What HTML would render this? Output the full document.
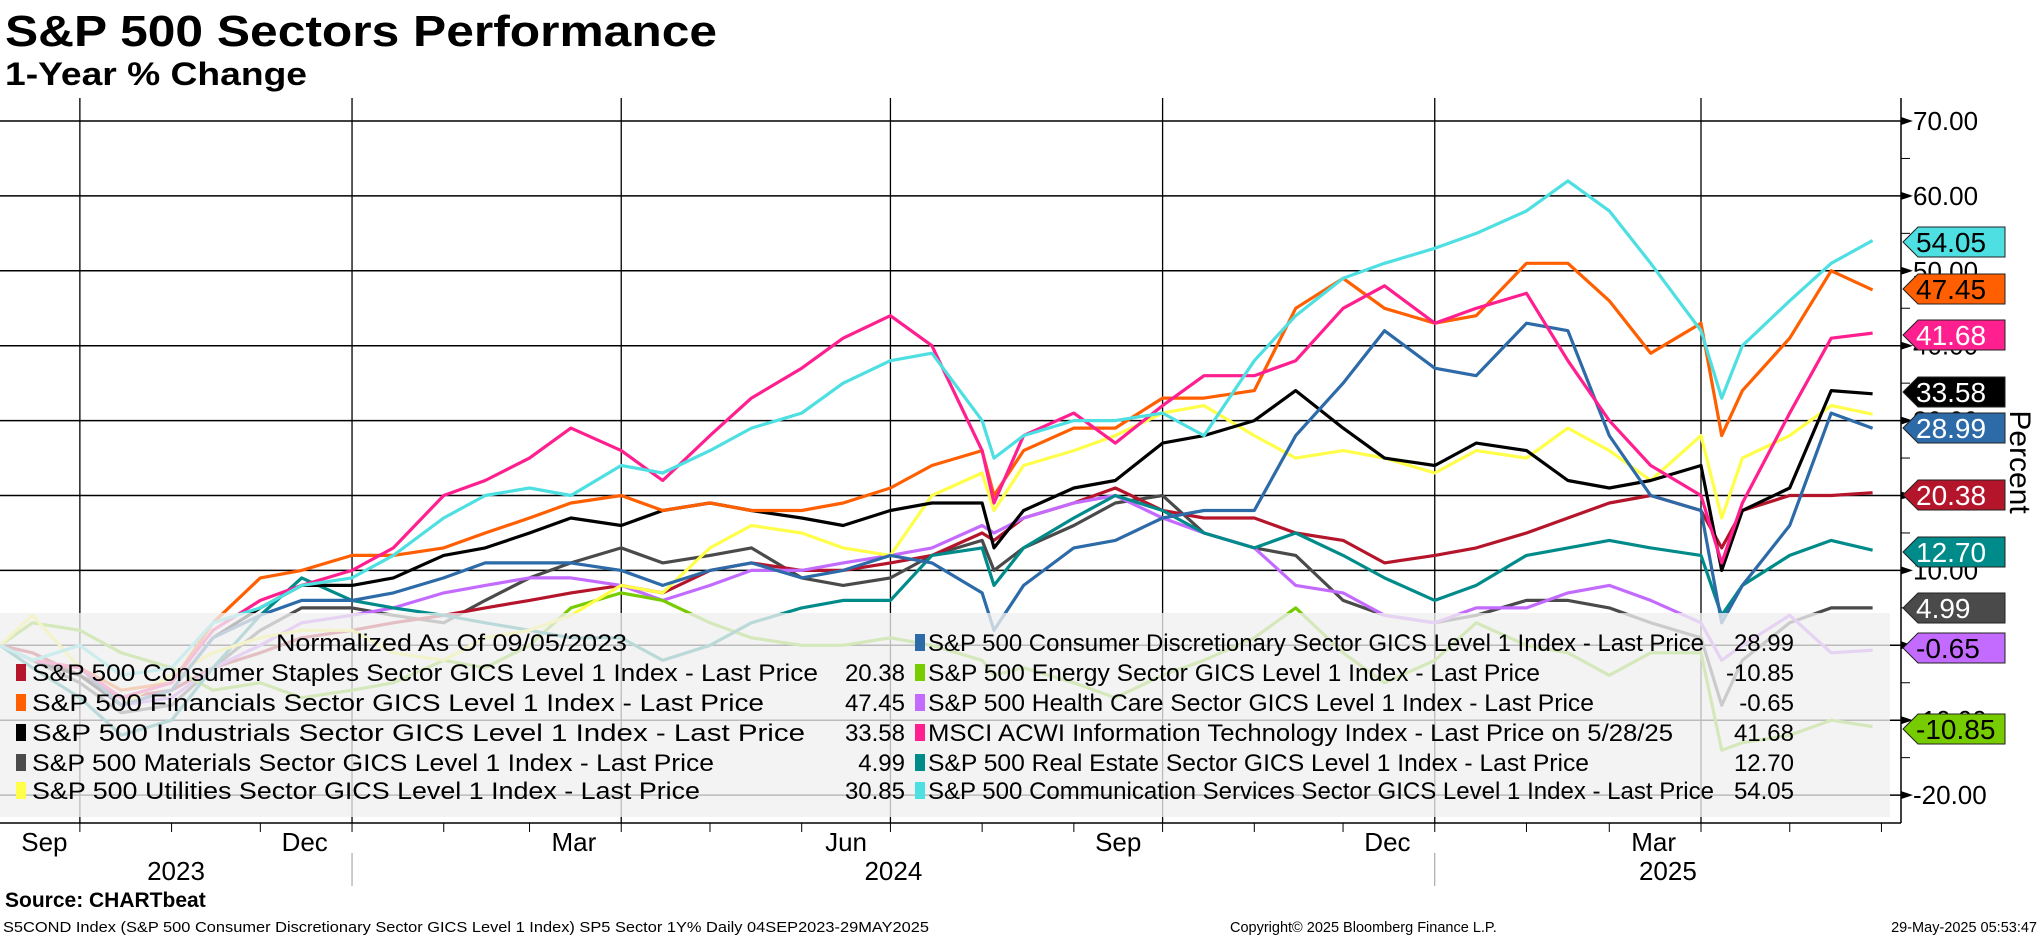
<!DOCTYPE html>
<html>
<head>
<meta charset="utf-8">
<style>
html,body{margin:0;padding:0;background:#fff;}
body{width:2041px;height:936px;overflow:hidden;font-family:"Liberation Sans",sans-serif;}
svg text{font-family:"Liberation Sans",sans-serif;}
</style>
</head>
<body>
<svg id="chart" width="2041" height="936" viewBox="0 0 2041 936" xmlns="http://www.w3.org/2000/svg">
  <text x="5" y="46" font-size="44" font-weight="bold" textLength="712" lengthAdjust="spacingAndGlyphs">S&amp;P 500 Sectors Performance</text>
  <text x="5" y="85" font-size="32" font-weight="bold" textLength="302" lengthAdjust="spacingAndGlyphs">1-Year % Change</text>
  <g id="grid"></g>
  <g id="series"></g>
  <g id="legend"></g>
  <g id="axes"></g>
  <g id="tags"></g>
  <text transform="translate(2010,462) rotate(90)" font-size="30" text-anchor="middle">Percent</text>
  <text x="5" y="907" font-size="21" font-weight="bold">Source: CHARTbeat</text>
  <text x="3" y="932" font-size="14.5" textLength="926" lengthAdjust="spacingAndGlyphs">S5COND Index (S&amp;P 500 Consumer Discretionary Sector GICS Level 1 Index) SP5 Sector 1Y%  Daily 04SEP2023-29MAY2025</text>
  <text x="1230" y="932" font-size="14.5">Copyright© 2025 Bloomberg Finance L.P.</text>
  <text x="2037" y="932" font-size="14.5" text-anchor="end">29-May-2025 05:53:47</text>
</svg>
<script>
const dates = ["2023-09-04","2023-09-15","2023-10-01","2023-10-15","2023-11-01","2023-11-15","2023-12-01","2023-12-15","2024-01-01","2024-01-15","2024-02-01","2024-02-15","2024-03-01","2024-03-15","2024-04-01","2024-04-15","2024-05-01","2024-05-15","2024-06-01","2024-06-15","2024-07-01","2024-07-15","2024-08-01","2024-08-05","2024-08-15","2024-09-01","2024-09-15","2024-10-01","2024-10-15","2024-11-01","2024-11-15","2024-12-01","2024-12-15","2025-01-01","2025-01-15","2025-02-01","2025-02-15","2025-03-01","2025-03-15","2025-04-01","2025-04-08","2025-04-15","2025-05-01","2025-05-15","2025-05-29"];
const staples = [0,-1,-4,-7,-6,-3,-1,1,2,3,4,5,6,7,8,7,10,11,10,10,11,12,15,14,17,19,21,18,17,17,15,14,11,12,13,15,17,19,20,18,13,18,20,20,20.38];
const financials = [0,-2,-3,-6,-5,3,9,10,12,12,13,15,17,19,20,18,19,18,18,19,21,24,26,20,26,29,29,33,33,34,45,49,45,43,44,51,51,46,39,43,28,34,41,50,47.45];
const industrials = [0,-2,-4,-8,-6,1,5,8,8,9,12,13,15,17,16,18,19,18,17,16,18,19,19,13,18,21,22,27,28,30,34,29,25,24,27,26,22,21,22,24,10,18,21,34,33.58];
const materials = [0,-2,-5,-9,-8,-3,2,5,5,4,3,6,9,11,13,11,12,13,9,8,9,12,14,10,13,16,19,20,15,13,12,6,4,3,4,6,6,5,3,1,-8,-2,3,5,4.99];
const utilities = [0,4,-3,-8,-4,-1,1,2,2,-1,-2,1,2,4,8,7,13,16,15,13,12,20,23,18,24,26,28,31,32,28,25,26,25,23,26,25,29,26,22,28,17,25,28,32,30.85];
const discretionary = [0,-2,-3,-8,-6,1,4,6,6,7,9,11,11,11,10,8,10,11,9,10,12,11,7,2,8,13,14,17,18,18,28,35,42,37,36,43,42,28,20,18,3,8,16,31,28.99];
const energy = [0,3,2,-1,-3,-6,-5,-7,-6,-5,-2,-3,0,5,7,6,3,1,0,0,1,0,-2,-4,-3,-5,-7,-4,-2,1,5,-1,-5,-2,3,0,-1,-4,-1,-1,-14,-13,-12,-10,-10.85];
const healthcare = [0,-2,-4,-8,-7,-3,0,3,4,5,7,8,9,9,8,6,8,10,10,11,12,13,16,15,17,19,20,17,15,13,8,7,4,3,5,5,7,8,6,3,-2,0,4,-1,-0.65];
const infotech = [0,-2,-3,-7,-5,2,6,8,10,13,20,22,25,29,26,22,28,33,37,41,44,40,26,19,28,31,27,32,36,36,38,45,48,43,45,47,38,30,24,20,11,19,31,41,41.68];
const realestate = [0,-3,-7,-12,-10,-3,4,9,6,5,4,3,2,1,1,-2,0,3,5,6,6,12,13,8,13,17,20,18,15,13,15,12,9,6,8,12,13,14,13,12,4,8,12,14,12.70];
const commserv = [0,-2,0,-4,-3,3,5,8,9,12,17,20,21,20,24,23,26,29,31,35,38,39,30,25,28,30,30,31,28,38,44,49,51,53,55,58,62,58,51,42,33,40,46,51,54.05];
const yTicks = [70,60,50,40,30,20,10,0,-10,-20];
const yTickLabels = ["70.00","60.00","50.00","40.00","30.00","20.00","10.00","0.00","-10.00","-20.00"];
const monthLabels = ["Sep","Dec","Mar","Jun","Sep","Dec","Mar"];
const monthLabelDates = ["2023-09-19","2023-12-16","2024-03-16","2024-06-16","2024-09-16","2024-12-16","2025-03-16"];
const yearLabels = ["2023","2024","2025"];
const lastValues = ["54.05","47.45","41.68","33.58","28.99","20.38","12.70","4.99","-0.65","-10.85"];

const NS = "http://www.w3.org/2000/svg";
const T0 = Date.UTC(2023,8,4), T1 = Date.UTC(2025,3,1);
function xOf(d){const p=d.split("-");const t=Date.UTC(+p[0],+p[1]-1,+p[2]);return (t-T0)/(T1-T0)*1701;}
function yOf(v){return 121+(70-v)*7.49;}
function mk(tag,attrs,parent){const e=document.createElementNS(NS,tag);for(const k in attrs)e.setAttribute(k,attrs[k]);parent.appendChild(e);return e;}
const PR = 1901, PT = 98, PB = 823;
const grid=document.getElementById("grid"), axes=document.getElementById("axes"), ser=document.getElementById("series"), leg=document.getElementById("legend"), tags=document.getElementById("tags");

yTicks.forEach((v,i)=>{
  const l=mk("line",{x1:0,x2:PR,y1:yOf(v),y2:yOf(v),stroke:"#000","stroke-width":1.5},grid);
  
  
});
["2023-10-01","2024-01-01","2024-04-01","2024-07-01","2024-10-01","2025-01-01","2025-04-01"].forEach(d=>{
  const l=mk("line",{x1:xOf(d),x2:xOf(d),y1:PT,y2:PB,stroke:"#000","stroke-width":1.3},grid);
  
  
});

const seriesDefs=[
 ["materials",materials,"#4a4a4a"],["staples",staples,"#b5152b"],["healthcare",healthcare,"#c46bff"],
 ["energy",energy,"#77cc00"],["realestate",realestate,"#008b8b"],["utilities",utilities,"#ffff4a"],
 ["industrials",industrials,"#000000"],["discretionary",discretionary,"#2c6aa8"],["financials",financials,"#ff5f00"],
 ["infotech",infotech,"#ff1f8f"],["commserv",commserv,"#4ddfe1"]];
seriesDefs.forEach(s=>{
  const pts=s[1].map((v,i)=>xOf(dates[i]).toFixed(1)+","+yOf(v).toFixed(1)).join(" ");
  const p=mk("polyline",{points:pts,fill:"none",stroke:s[2],"stroke-width":3.2,"stroke-linejoin":"round"},ser);
  
  
});

// legend
const lb=mk("rect",{x:0,y:613,width:1890,height:204,fill:"rgba(240,240,240,0.78)"},leg);


const rowY=[651,681,711,741,771,799];
const nt=mk("text",{x:276,y:651,"font-size":24,textLength:351,lengthAdjust:"spacingAndGlyphs"},leg);
nt.textContent="Normalized As Of 09/05/2023";


const legL=[
 ["S&P 500 Consumer Staples Sector GICS Level 1 Index - Last Price","20.38","#b5152b",786],
 ["S&P 500 Financials Sector GICS Level 1 Index - Last Price","47.45","#ff5f00",732],
 ["S&P 500 Industrials Sector GICS Level 1 Index - Last Price","33.58","#000000",773],
 ["S&P 500 Materials Sector GICS Level 1 Index - Last Price","4.99","#4a4a4a",682],
 ["S&P 500 Utilities Sector GICS Level 1 Index - Last Price","30.85","#ffff4a",668]];
const legR=[
 ["S&P 500 Consumer Discretionary Sector GICS Level 1 Index - Last Price","28.99","#2c6aa8",776],
 ["S&P 500 Energy Sector GICS Level 1 Index - Last Price","-10.85","#77cc00",612],
 ["S&P 500 Health Care Sector GICS Level 1 Index - Last Price","-0.65","#c46bff",666],
 ["MSCI ACWI Information Technology Index - Last Price on 5/28/25","41.68","#ff1f8f",745],
 ["S&P 500 Real Estate Sector GICS Level 1 Index - Last Price","12.70","#008b8b",661],
 ["S&P 500 Communication Services Sector GICS Level 1 Index - Last Price","54.05","#4ddfe1",786]];
function legEntry(e,row,mx,tx,vx){
  const y=rowY[row];
  const m=mk("rect",{x:mx,y:y-17,width:10,height:17,fill:e[2]},leg);
  
  
  const t=mk("text",{x:tx,y:y,"font-size":24,textLength:e[3],lengthAdjust:"spacingAndGlyphs"},leg);
  t.textContent=e[0];
  
  
  const v=mk("text",{x:vx,y:y,"font-size":24,"text-anchor":"end"},leg);
  v.textContent=e[1];
  
  
}
legL.forEach((e,i)=>legEntry(e,i+1,16,32,905));
legR.forEach((e,i)=>legEntry(e,i,915,928,1794));

// axes
const ya=mk("line",{x1:PR,x2:PR,y1:PT,y2:PB,stroke:"#000","stroke-width":1.5},axes);


const xa=mk("line",{x1:0,x2:PR,y1:PB,y2:PB,stroke:"#000","stroke-width":1.5},axes);


yTicks.forEach((v,i)=>{
  const y=yOf(v);
  const a=mk("polygon",{points:`${PR},${y-4} ${PR+12},${y} ${PR},${y+4}`,fill:"#000"},axes);
  
  
  if(y+37.45<PB){
    const mt=mk("line",{x1:PR,x2:PR+9,y1:y+37.45,y2:y+37.45,stroke:"#000","stroke-width":1},axes);
    
    
  }
  const t=mk("text",{x:PR+12,y:y+9,"font-size":26},axes);
  t.textContent=yTickLabels[i];
  
  
});
for(let m=0;m<21;m++){
  const yr=2023+Math.floor((9+m)/12), mo=((9+m)%12)+1;
  const d=yr+"-"+String(mo).padStart(2,"0")+"-01";
  const x=xOf(d);
  if(x>PR)break;
  const t=mk("line",{x1:x,x2:x,y1:PB,y2:PB+9,stroke:"#000","stroke-width":1},axes);
  
  
}
monthLabels.forEach((s,i)=>{
  const t=mk("text",{x:xOf(monthLabelDates[i]),y:851,"font-size":26,"text-anchor":"middle"},axes);
  t.textContent=s;
  
  
});
const yb=[0,xOf("2024-01-01"),xOf("2025-01-01"),PR];
yearLabels.forEach((s,i)=>{
  const t=mk("text",{x:(yb[i]+yb[i+1])/2,y:880,"font-size":26,"text-anchor":"middle"},axes);
  t.textContent=s;
  
  
});
[1,2].forEach(i=>{
  const l=mk("line",{x1:yb[i],x2:yb[i],y1:853,y2:886,stroke:"#999","stroke-width":1},axes);
  
  
});

// tags
const tagY=[242,289,335,392,428,495,552,608,648,729];
const tagFill=["#4ddfe1","#ff5f00","#ff1f8f","#000000","#2c6aa8","#b5152b","#008b8b","#4a4a4a","#c46bff","#77cc00"];
const tagText=["#000","#000","#fff","#fff","#fff","#fff","#fff","#fff","#000","#000"];
lastValues.forEach((s,i)=>{
  const y=tagY[i];
  const p=mk("polygon",{points:`1903,${y} 1918,${y-15} 2005,${y-15} 2005,${y+15} 1918,${y+15}`,fill:tagFill[i],stroke:"#222","stroke-width":1},tags);
  
  
  const t=mk("text",{x:1916,y:y+10,"font-size":28,fill:tagText[i]},tags);
  t.textContent=s;
  
  
});
</script>
</body>
</html>
